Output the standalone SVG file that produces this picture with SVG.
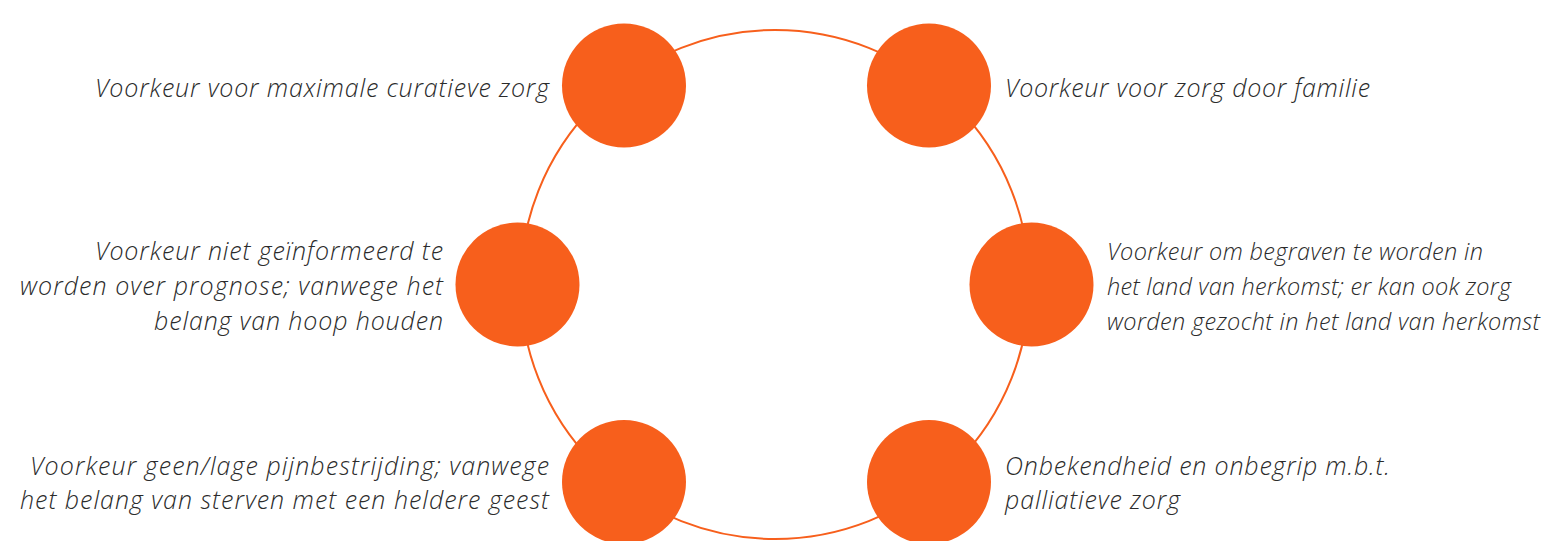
<svg xmlns="http://www.w3.org/2000/svg" width="1544" height="541" viewBox="0 0 1544 541">
<style>
.ring{fill:none;stroke:#F75F1C;stroke-width:2}
.dot{fill:#F75F1C}
.t{font-family:"Open Sans",sans-serif;font-style:italic;font-weight:300;font-size:25px;fill:#2b2b2b}
.s{font-size:23.5px}
.r{text-anchor:end}
</style>
<rect width="1544" height="541" fill="#fff"/>
<g id="connectors">
<circle class="ring" cx="775" cy="284.5" r="254.5"/>
</g>
<g id="n1"><circle class="dot" cx="624" cy="85.5" r="62"/>
<text class="t r" x="549" y="97" textLength="454">Voorkeur voor maximale curatieve zorg</text></g>
<g id="n2"><circle class="dot" cx="929" cy="85.5" r="62"/>
<text class="t" x="1005" y="97" textLength="365">Voorkeur voor zorg door familie</text></g>
<g id="n3"><circle class="dot" cx="517.5" cy="284.5" r="62"/>
<text class="t r" x="443" y="260" textLength="348">Voorkeur niet geïnformeerd te</text>
<text class="t r" x="443" y="295" textLength="423">worden over prognose; vanwege het</text>
<text class="t r" x="443" y="330" textLength="289">belang van hoop houden</text></g>
<g id="n4"><circle class="dot" cx="1031.5" cy="284.5" r="62"/>
<text class="t s" x="1107" y="260" textLength="376">Voorkeur om begraven te worden in</text>
<text class="t s" x="1107" y="295" textLength="404">het land van herkomst; er kan ook zorg</text>
<text class="t s" x="1107" y="330" textLength="433">worden gezocht in het land van herkomst</text></g>
<g id="n5"><circle class="dot" cx="624" cy="482" r="62"/>
<text class="t r" x="549" y="475" textLength="519">Voorkeur geen/lage pijnbestrijding; vanwege</text>
<text class="t r" x="549" y="509" textLength="529">het belang van sterven met een heldere geest</text></g>
<g id="n6"><circle class="dot" cx="929" cy="482" r="62"/>
<text class="t" x="1005" y="475" textLength="385">Onbekendheid en onbegrip m.b.t.</text>
<text class="t" x="1005" y="509" textLength="175">palliatieve zorg</text></g>
</svg>
